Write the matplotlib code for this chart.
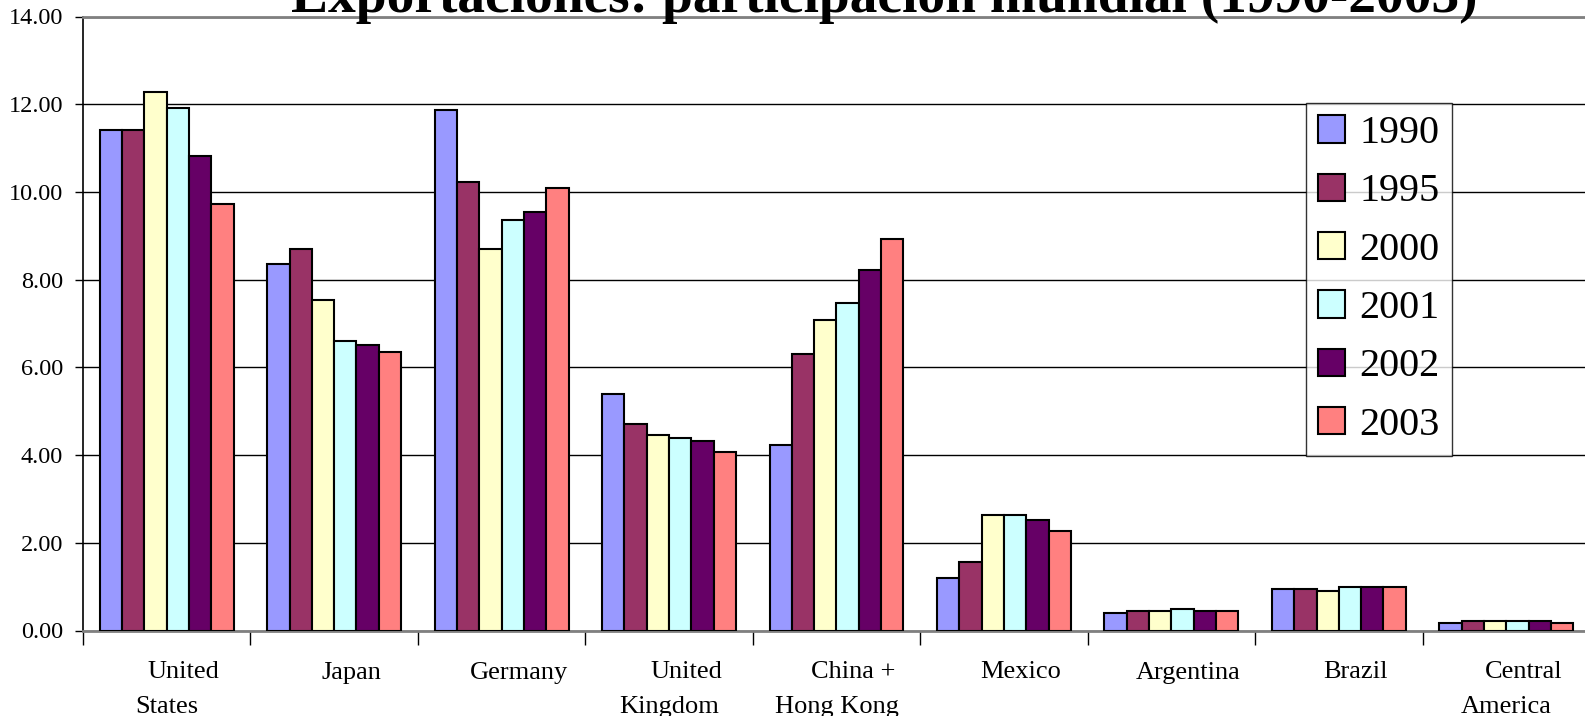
import matplotlib
matplotlib.use("Agg")
import matplotlib.pyplot as plt
import matplotlib.transforms as mtransforms
import numpy as np
from matplotlib.ticker import FixedLocator, FormatStrFormatter, NullFormatter

plt.rcParams['font.family'] = ['Liberation Serif', 'DejaVu Serif']

categories = ["United\nStates", "Japan", "Germany", "United\nKingdom", "China +\nHong Kong",
              "Mexico", "Argentina", "Brazil", "Central\nAmerica"]
years = ["1990", "1995", "2000", "2001", "2002", "2003"]
v1990 = [11.41, 8.36, 11.87, 5.39, 4.22, 1.20, 0.39, 0.94, 0.16]
v1995 = [11.41, 8.69, 10.23, 4.70, 6.31, 1.57, 0.44, 0.94, 0.21]
v2000 = [12.28, 7.53, 8.69, 4.45, 7.07, 2.63, 0.44, 0.90, 0.21]
v2001 = [11.91, 6.59, 9.35, 4.40, 7.46, 2.63, 0.48, 0.99, 0.21]
v2002 = [10.81, 6.50, 9.54, 4.31, 8.23, 2.53, 0.44, 0.99, 0.21]
v2003 = [9.72, 6.36, 10.09, 4.08, 8.92, 2.26, 0.44, 0.99, 0.16]
series = [v1990, v1995, v2000, v2001, v2002, v2003]
colors = ["#9999FF", "#993366", "#FFFFCC", "#CCFFFF", "#660066", "#FF8080"]
title = "Exportaciones: participación mundial (1990-2003)"

W, H = 1585, 716
fig = plt.figure(figsize=(W / 100, H / 100), dpi=100)
x0, x1 = 83, 1590
y14, y0 = 16.5, 630.5
ax = fig.add_axes([x0 / W, (H - y0) / H, (x1 - x0) / W, (y0 - y14) / H])

x = np.arange(len(categories))
n = len(series)
bw = 0.80 / n
for i, (vals, col, yr) in enumerate(zip(series, colors, years)):
    ax.bar(x - 0.40 + bw * (i + 0.5), vals, width=bw, color=col,
           edgecolor="black", linewidth=1.5, label=yr, zorder=3)

ax.set_xlim(-0.5, len(categories) - 0.5)
ax.set_ylim(0, 14)
ax.set_yticks(np.arange(0, 15, 2))
ax.yaxis.set_major_formatter(FormatStrFormatter("%.2f"))
ax.tick_params(axis='y', labelsize=17.5, length=5.8, width=1, direction='out', pad=8.6)
ax.grid(axis='y', color='black', linewidth=1, zorder=0)
ax.set_axisbelow(True)

# category boundaries as ticks, labels drawn as text below
ax.set_xticks([])
ax.xaxis.set_minor_locator(FixedLocator(np.arange(-0.5, len(categories), 1.0)))
ax.xaxis.set_minor_formatter(NullFormatter())
ax.tick_params(axis='x', which='minor', length=10, width=1, direction='out')

base = mtransforms.blended_transform_factory(ax.transData, fig.transFigure)
shift = mtransforms.ScaledTranslation(0.17, 0, fig.dpi_scale_trans)
for xi, lab in zip(x, categories):
    lines = lab.split("\n")
    ax.text(xi, (H - 678.5) / H, lines[0], transform=base + shift, ha='center',
            va='baseline', fontsize=19, clip_on=False)
    if len(lines) > 1:
        ax.text(xi, (H - 712.7) / H, lines[1], transform=base, ha='center',
                va='baseline', fontsize=19, clip_on=False)

for s in ['top', 'bottom']:
    ax.spines[s].set_color('#808080')
    ax.spines[s].set_linewidth(2)
ax.spines['left'].set_color('black')
ax.spines['left'].set_linewidth(1.2)
ax.spines['right'].set_visible(False)

lx, ly = 1306, 103
leg = ax.legend(loc='upper left',
                bbox_to_anchor=((lx - x0) / (x1 - x0), 1 - (ly - y14) / (y0 - y14)),
                fontsize=29, frameon=True, fancybox=False, shadow=False,
                handlelength=0.66, handleheight=0.66, handletextpad=0.36,
                labelspacing=0.53, borderpad=0.3, borderaxespad=0)
leg.get_frame().set_edgecolor('black')
leg.get_frame().set_linewidth(1)
leg.set_zorder(5)

fig.text(884.5 / W, (H - 11.7) / H, title, ha='center', va='baseline',
         fontsize=39.9, fontweight='bold')

fig.savefig("out.png", dpi=100)
